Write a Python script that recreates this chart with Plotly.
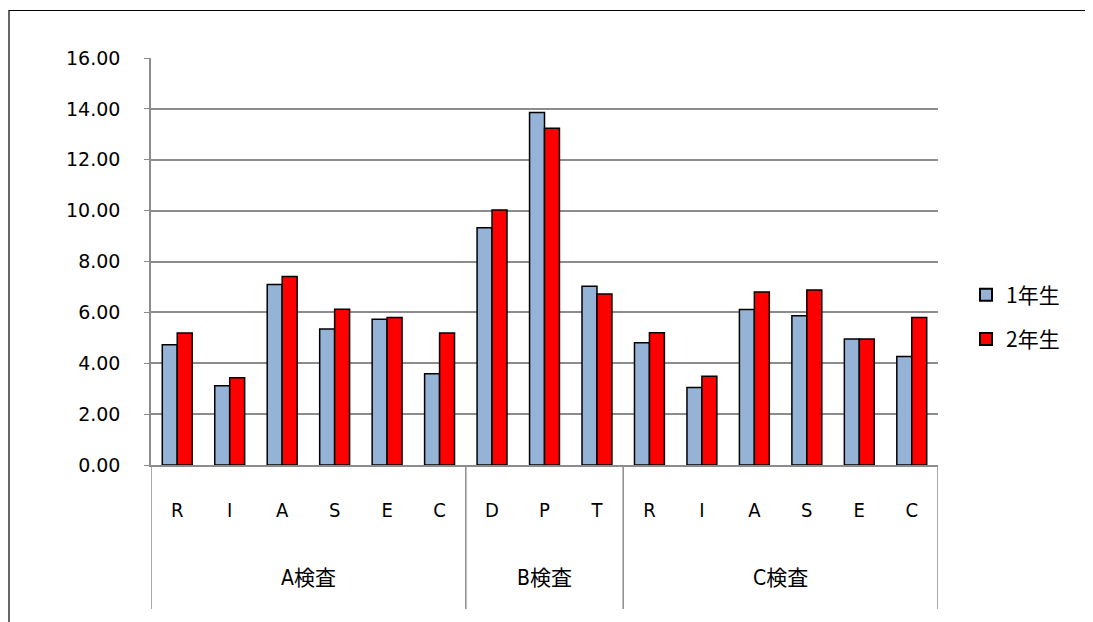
import plotly.graph_objects as go

groups = ["A検査"] * 6 + ["B検査"] * 3 + ["C検査"] * 6
items = ["R", "I", "A", "S", "E", "C", "D", "P", "T", "R", "I", "A", "S", "E", "C"]
grade1 = [4.73, 3.12, 7.10, 5.35, 5.73, 3.59, 9.33, 13.86, 7.03, 4.81, 3.05, 6.11, 5.87, 4.95, 4.27]
grade2 = [5.19, 3.43, 7.41, 6.12, 5.80, 5.19, 10.02, 13.24, 6.72, 5.20, 3.49, 6.80, 6.88, 4.95, 5.80]
series_names = ["1年生", "2年生"]
y_ticks = [0, 2, 4, 6, 8, 10, 12, 14, 16]

cat_font = "DejaVu Sans Condensed, Liberation Sans Narrow, Noto Sans CJK JP, sans-serif"
jp_font = "Noto Sans CJK JP, sans-serif"

xpos = list(range(len(items)))

# group spans
spans = []
start = 0
for i in range(1, len(groups) + 1):
    if i == len(groups) or groups[i] != groups[start]:
        spans.append((groups[start], start, i - 1))
        start = i

# page offset compensation (body margin 8px): screen plot area = 151..938 x, 58..465 y
PL, PT, PW, PH = 151, 58, 787, 407

def px_to_paper_x(px):
    return (px - PL) / PW

def px_to_paper_y(py):
    return (PT + PH - py) / PH

fig = go.Figure()
fig.add_trace(go.Bar(x=xpos, y=grade1, name=series_names[0], legendgroup="g1",
                     marker=dict(color="#95B3D7", line=dict(color="#000000", width=1.5))))
fig.add_trace(go.Bar(x=xpos, y=grade2, name=series_names[1], legendgroup="g2",
                     marker=dict(color="#FF0000", line=dict(color="#000000", width=1.5))))

shapes = [dict(type="rect", xref="paper", yref="paper",
               x0=px_to_paper_x(9), x1=px_to_paper_x(1110),
               y0=px_to_paper_y(640), y1=px_to_paper_y(10.5),
               line=dict(color="#000000", width=1.2), fillcolor="rgba(0,0,0,0)", layer="below")]
bounds = sorted(set([s[1] - 0.5 for s in spans] + [s[2] + 0.5 for s in spans]))
for b in bounds:
    shapes.append(dict(type="line", xref="x", yref="paper", x0=b, x1=b,
                       y0=0, y1=px_to_paper_y(609),
                       line=dict(color="#8C8C8C", width=1.5)))

annotations = []
for name, s, e in spans:
    annotations.append(dict(x=(s + e) / 2, y=px_to_paper_y(578), xref="x", yref="paper",
                            text=name, showarrow=False, yanchor="middle", xanchor="center",
                            font=dict(family=cat_font, size=21, color="#000000")))

fig.update_layout(
    width=1093, height=622,
    margin=dict(l=PL - 8, r=1093 - (PL - 8) - PW, t=PT - 8, b=622 - (PT - 8) - PH, autoexpand=False),
    paper_bgcolor="white", plot_bgcolor="white",
    barmode="group", bargap=0.43, bargroupgap=0,
    font=dict(family=cat_font, color="#000000", size=18),
    showlegend=True,
    legend=dict(x=px_to_paper_x(966), y=px_to_paper_y(317), xanchor="left", yanchor="middle",
                font=dict(family=jp_font, size=21),
                itemsizing="constant", tracegroupgap=14, itemwidth=30),
    xaxis=dict(range=[-0.5, len(items) - 0.5], tickvals=xpos, ticktext=items,
               showline=True, linecolor="#8C8C8C", linewidth=1.5,
               ticks="", showgrid=False, zeroline=False,
               ticklabelstandoff=26,
               tickfont=dict(family=cat_font, size=20)),
    yaxis=dict(range=[0, 16], tickvals=y_ticks, tickformat=".2f",
               showgrid=True, gridcolor="#8C8C8C", gridwidth=1.5,
               showline=True, linecolor="#8C8C8C", linewidth=1.5,
               ticks="outside", ticklen=5, tickcolor="#8C8C8C",
               ticklabelstandoff=20,
               tickfont=dict(family="DejaVu Sans, sans-serif", size=19),
               zeroline=False),
    shapes=shapes,
    annotations=annotations,
)

fig.write_html("out.html")
